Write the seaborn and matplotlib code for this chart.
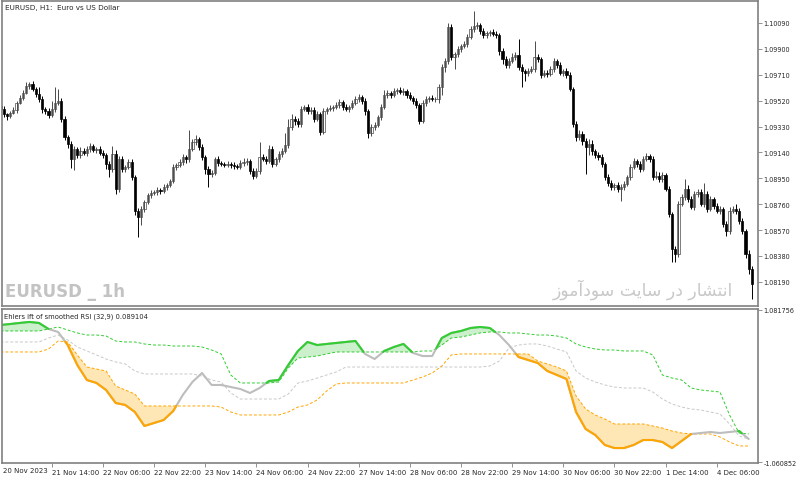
import numpy as np
import pandas as pd
import seaborn as sns
import matplotlib
matplotlib.use('Agg')
import matplotlib.pyplot as plt

# EURUSD H1 closes, one per bar
closes = [
    1.09459, 1.09422, 1.09407, 1.09429, 1.09451, 1.09503, 1.09539, 1.09576, 1.09628, 1.09642,
    1.09605, 1.09569, 1.09532, 1.09459, 1.09444, 1.09415, 1.09459, 1.09503, 1.09517, 1.09385,
    1.09253, 1.09202, 1.09092, 1.09165, 1.09121, 1.09150, 1.09136, 1.09165, 1.09187, 1.09158,
    1.09165, 1.09136, 1.09121, 1.09055, 1.09018, 1.09128, 1.08872, 1.09092, 1.09018, 1.09033,
    1.09070, 1.08960, 1.08710, 1.08666, 1.08725, 1.08776, 1.08828, 1.08842, 1.08850, 1.08864,
    1.08857, 1.08886, 1.08901, 1.08930, 1.09033, 1.09048, 1.09070, 1.09106, 1.09092, 1.09165,
    1.09216, 1.09238, 1.09180, 1.09106, 1.09018, 1.08982, 1.08989, 1.09092, 1.09062, 1.09055,
    1.09048, 1.09055, 1.09048, 1.09040, 1.09033, 1.09062, 1.09070, 1.09077, 1.09004, 1.08967, 1.09004,
    1.09106, 1.09092, 1.09077, 1.09165, 1.09055, 1.09092, 1.09128, 1.09150, 1.09194, 1.09327,
    1.09385, 1.09371, 1.09349, 1.09459, 1.09473, 1.09444, 1.09451, 1.09385, 1.09422, 1.09290,
    1.09444, 1.09459, 1.09466, 1.09473, 1.09488, 1.09510, 1.09473, 1.09459, 1.09473, 1.09503,
    1.09532, 1.09547, 1.09517, 1.09444, 1.09283, 1.09327, 1.09341, 1.09400, 1.09473, 1.09561,
    1.09576, 1.09561, 1.09591, 1.09598, 1.09583, 1.09591, 1.09561, 1.09539, 1.09517, 1.09488,
    1.09371, 1.09503, 1.09532, 1.09539, 1.09532, 1.09532, 1.09620, 1.09767, 1.09811, 1.10060,
    1.09840, 1.09862, 1.09899, 1.09921, 1.09936, 1.09987, 1.10046, 1.10068, 1.10075, 1.10031,
    1.10002, 1.10016, 1.10024, 1.10009, 1.10002, 1.09884, 1.09826, 1.09782, 1.09811, 1.09840, 1.09855,
    1.09767, 1.09738, 1.09723, 1.09738, 1.09752, 1.09840, 1.09826, 1.09708, 1.09723, 1.09716,
    1.09752, 1.09811, 1.09782, 1.09723, 1.09738, 1.09708, 1.09605, 1.09349, 1.09253, 1.09275,
    1.09224, 1.09180, 1.09202, 1.09150, 1.09121, 1.09106, 1.09055, 1.08960, 1.08916, 1.08886,
    1.08901, 1.08872, 1.08886, 1.08908, 1.08960, 1.09033, 1.09077, 1.09055, 1.09018, 1.09092,
    1.09114, 1.09092, 1.08960, 1.08967, 1.08945, 1.08974, 1.08872, 1.08688, 1.08432, 1.08395,
    1.08762, 1.08813, 1.08872, 1.08798, 1.08740, 1.08835, 1.08850, 1.08762, 1.08835, 1.08725,
    1.08798, 1.08747, 1.08710, 1.08725, 1.08615, 1.08564, 1.08710, 1.08725, 1.08710, 1.08637,
    1.08564, 1.08395, 1.08285, 1.08175,
]
first_open = 1.09480

# wick length beyond the body, in points (0.00001)
upper_wick_pts = [
    15, 20, 10, 15, 20, 15, 25, 20, 30, 15,
    20, 15, 50, 20, 15, 20, 60, 115, 90, 20,
    20, 15, 20, 25, 15, 30, 20, 25, 20, 15,
    15, 20, 20, 15, 20, 60, 30, 25, 20, 15,
    25, 20, 15, 20, 20, 15, 15, 20, 15, 20,
    15, 20, 15, 15, 20, 15, 20, 25, 15, 140,
    20, 30, 15, 20, 15, 20, 25, 15, 20, 15,
    15, 20, 15, 20, 15, 25, 30, 20, 15, 20, 25,
    110, 20, 25, 30, 20, 15, 25, 20, 90, 60,
    40, 20, 25, 20, 15, 20, 20, 25, 20, 15,
    20, 15, 20, 15, 25, 20, 15, 20, 15, 20,
    25, 20, 15, 20, 15, 20, 25, 15, 20, 40,
    20, 15, 25, 15, 20, 25, 15, 20, 15, 20,
    15, 20, 20, 15, 20, 15, 20, 25, 20, 30,
    20, 15, 25, 15, 20, 20, 25, 110, 20, 15,
    20, 15, 15, 20, 25, 15, 20, 25, 20, 30, 20,
    115, 20, 15, 25, 20, 115, 20, 15, 20, 25,
    20, 25, 15, 20, 15, 20, 25, 15, 20, 30,
    20, 25, 40, 30, 15, 20, 20, 15, 20, 25,
    15, 20, 20, 25, 15, 20, 25, 15, 20, 25,
    20, 15, 25, 40, 30, 20, 15, 20, 15, 20,
    20, 25, 70, 30, 20, 25, 20, 20, 80, 20,
    20, 15, 20, 25, 15, 20, 30, 20, 40, 20,
    20, 15, 30, 20,
]
lower_wick_pts = [
    20, 25, 30, 15, 10, 20, 10, 15, 10, 20,
    15, 25, 20, 30, 25, 20, 15, 20, 15, 20,
    25, 30, 70, 80, 20, 20, 15, 20, 25, 15,
    20, 15, 25, 40, 60, 20, 40, 20, 25, 20,
    15, 20, 30, 150, 60, 20, 15, 20, 15, 20,
    20, 15, 20, 15, 15, 20, 15, 20, 30, 20,
    15, 20, 25, 20, 40, 95, 20, 15, 20, 15,
    15, 15, 20, 20, 15, 15, 20, 20, 25, 20, 15,
    20, 15, 20, 15, 20, 15, 20, 20, 15, 20,
    20, 30, 25, 20, 15, 20, 25, 20, 15, 25,
    15, 20, 15, 20, 15, 20, 25, 15, 20, 15,
    15, 20, 20, 30, 40, 25, 20, 15, 20, 15,
    20, 25, 15, 20, 15, 20, 20, 15, 20, 25,
    20, 15, 20, 25, 15, 20, 30, 60, 40, 20,
    20, 90, 25, 20, 15, 20, 15, 20, 25, 20,
    25, 20, 20, 15, 20, 30, 40, 25, 20, 15, 20,
    20, 115, 60, 20, 15, 20, 25, 20, 15, 20,
    15, 20, 25, 15, 20, 20, 15, 25, 30, 20,
    30, 200, 60, 30, 20, 20, 25, 20, 25, 20,
    25, 20, 90, 20, 15, 20, 15, 20, 25, 15,
    15, 20, 20, 15, 25, 20, 15, 25, 95, 60,
    20, 15, 20, 25, 15, 20, 25, 15, 20, 25,
    15, 20, 15, 20, 25, 40, 20, 15, 20, 25,
    25, 30, 40, 110,
]

price_ticks = [1.10090, 1.09900, 1.09710, 1.09520, 1.09330, 1.09140,
               1.08950, 1.08760, 1.08570, 1.08380, 1.08190]

first_date = '20 Nov 2023'
date_ticks = [16, 32, 48, 64, 80, 96, 112, 128, 144, 160, 176, 192, 208, 224]
date_labels = ['21 Nov 14:00', '22 Nov 06:00', '22 Nov 22:00', '23 Nov 14:00',
               '24 Nov 06:00', '24 Nov 22:00', '27 Nov 14:00', '28 Nov 06:00',
               '28 Nov 22:00', '29 Nov 14:00', '30 Nov 06:00', '30 Nov 22:00',
               '1 Dec 14:00', '4 Dec 06:00']

# Ehlers ift of smoothed RSI, sampled every 3 bars
ind_step = 3
ind_main = [
    0.870, 0.884, 0.899, 0.913, 0.899, 0.814, 0.772, 0.588, 0.307, 0.095,
    0.053, -0.046, -0.229, -0.257, -0.356, -0.553, -0.511, -0.469, -0.342, -0.116,
    0.067, 0.194, 0.025, 0.025, -0.004, -0.032, -0.088, -0.018, 0.081, 0.095,
    0.307, 0.504, 0.631, 0.588, 0.603, 0.617, 0.631, 0.645, 0.462, 0.391,
    0.504, 0.560, 0.603, 0.476, 0.433, 0.433, 0.687, 0.758, 0.786, 0.828,
    0.842, 0.828, 0.729, 0.588, 0.419, 0.377, 0.335, 0.222, 0.166, 0.109,
    -0.356, -0.596, -0.680, -0.821, -0.864, -0.864, -0.821, -0.751, -0.751, -0.779,
    -0.864, -0.765, -0.666, -0.652, -0.638, -0.652, -0.638, -0.624, -0.737,
]
ind_upper = [
    0.786, 0.786, 0.786, 0.786, 0.786, 0.814, 0.842, 0.800, 0.758, 0.729,
    0.729, 0.715, 0.645, 0.631, 0.631, 0.603, 0.588, 0.588, 0.574, 0.574,
    0.574, 0.560, 0.518, 0.462, 0.166, 0.053, 0.053, 0.053, 0.053, 0.067,
    0.264, 0.405, 0.419, 0.433, 0.462, 0.490, 0.490, 0.490, 0.490, 0.490,
    0.490, 0.490, 0.490, 0.490, 0.504, 0.504, 0.588, 0.687, 0.701, 0.729,
    0.758, 0.772, 0.772, 0.758, 0.758, 0.744, 0.729, 0.729, 0.715, 0.687,
    0.603, 0.560, 0.532, 0.518, 0.518, 0.504, 0.504, 0.504, 0.448, 0.166,
    0.123, 0.095, -0.018, -0.046, -0.060, -0.074, -0.398, -0.652, -0.666,
]
ind_middle = [
    0.631, 0.631, 0.631, 0.631, 0.631, 0.687, 0.729, 0.659, 0.560, 0.504,
    0.448, 0.391, 0.349, 0.321, 0.222, 0.180, 0.180, 0.180, 0.180, 0.180,
    0.180, 0.151, 0.095, 0.067, -0.088, -0.173, -0.173, -0.173, -0.173, -0.173,
    -0.102, 0.053, 0.081, 0.123, 0.166, 0.208, 0.278, 0.278, 0.278, 0.278,
    0.278, 0.278, 0.278, 0.278, 0.278, 0.278, 0.278, 0.278, 0.278, 0.278,
    0.278, 0.292, 0.363, 0.546, 0.588, 0.603, 0.603, 0.574, 0.532, 0.490,
    0.222, 0.123, 0.067, 0.025, -0.004, -0.018, -0.018, -0.018, -0.074, -0.173,
    -0.243, -0.286, -0.314, -0.328, -0.356, -0.384, -0.525, -0.694, -0.737,
]
ind_lower = [
    0.490, 0.490, 0.490, 0.490, 0.490, 0.532, 0.645, 0.631, 0.448, 0.278,
    0.250, 0.222, 0.011, -0.046, -0.102, -0.271, -0.271, -0.271, -0.271, -0.271,
    -0.271, -0.271, -0.271, -0.286, -0.356, -0.398, -0.398, -0.398, -0.398, -0.398,
    -0.356, -0.286, -0.257, -0.187, -0.060, 0.039, 0.053, 0.053, 0.053, 0.053,
    0.053, 0.053, 0.053, 0.095, 0.137, 0.194, 0.292, 0.448, 0.462, 0.462,
    0.462, 0.462, 0.462, 0.462, 0.462, 0.462, 0.363, 0.321, 0.278, 0.222,
    -0.131, -0.314, -0.398, -0.455, -0.525, -0.525, -0.525, -0.525, -0.553, -0.582,
    -0.624, -0.652, -0.666, -0.666, -0.666, -0.708, -0.779, -0.835, -0.835,
]
ind_max = 1.081756
ind_min = -1.060852
ind_title = 'Ehlers ift of smoothed RSI (32,9) 0.089104'

# "انتشار در سایت سودآموز" written with Arabic presentation forms in display order
watermark_fa = '\ufeaf\ufeee\ufee3\ufe81\ufea9\ufeee\ufeb3 \ufe96\ufef3\ufe8e\ufeb3 \ufead\ufea9 \ufead\ufe8e\ufeb8\ufe98\ufee7\ufe8d'


def colored_part(xs, ys, ref, above):
    # keep the part of the line that is beyond the band, cut at the crossings
    out_x, out_y = [], []
    prev = None
    for k in range(len(xs)):
        d = ys[k] - ref[k] if above else ref[k] - ys[k]
        if prev is not None and (d > 0) != (prev > 0):
            t = prev / (prev - d)
            out_x.append(xs[k - 1] + t * (xs[k] - xs[k - 1]))
            out_y.append(ys[k - 1] + t * (ys[k] - ys[k - 1]))
            if d <= 0:
                out_x.append(np.nan)
                out_y.append(np.nan)
        if d > 0:
            out_x.append(xs[k])
            out_y.append(ys[k])
        prev = d
    return out_x, out_y


sns.set_style('white')
plt.rcParams['font.family'] = ['DejaVu Sans']

fig = plt.figure(figsize=(8, 4.81), dpi=100)
ax1 = fig.add_axes([2 / 800, 1 - 307 / 481, 756 / 800, 305 / 481])
ax2 = fig.add_axes([2 / 800, 1 - 464 / 481, 756 / 800, 154 / 481])

# Candles
df = pd.DataFrame({'close': closes})
df['open'] = df['close'].shift(1).fillna(first_open)
df['high'] = df[['open', 'close']].max(axis=1) + np.array(upper_wick_pts) * 1e-5
df['low'] = df[['open', 'close']].min(axis=1) - np.array(lower_wick_pts) * 1e-5
df['bar'] = np.arange(len(df))
df['body'] = (df['close'] - df['open']).abs().clip(lower=0.00003)
df['bottom'] = df[['open', 'close']].min(axis=1)
up = df[df['close'] >= df['open']]
dn = df[df['close'] < df['open']]

ax1.vlines(up['bar'], up['low'], up['high'], color='#4a4a4a', lw=0.7)
ax1.vlines(dn['bar'], dn['low'], dn['high'], color='black', lw=0.7)
ax1.bar(up['bar'], up['body'], bottom=up['bottom'], width=0.7,
        color='white', edgecolor='#4a4a4a', linewidth=0.5)
ax1.bar(dn['bar'], dn['body'], bottom=dn['bottom'], width=0.7,
        color='black', edgecolor='black', linewidth=0.5)

ax1.set_xlim(0.45, 236.9)
ax1.set_ylim(1.08013, 1.10251)
ax1.yaxis.tick_right()
ax1.set_yticks(price_ticks)
ax1.set_yticklabels([f'{p:.5f}' for p in price_ticks])
ax1.set_xticks([])
ax1.tick_params(axis='y', right=True, length=3, width=0.6, pad=1,
                labelsize=4.7, color='#808080')

ax1.text(0.004, 0.980, 'EURUSD, H1:  Euro vs US Dollar', transform=ax1.transAxes,
         fontsize=5.2, va='center', ha='left')
ax1.text(0.004, 0.05, 'EURUSD _ 1h', transform=ax1.transAxes, fontsize=12,
         fontweight='bold', color='#c3c3c3', va='center', ha='left')
ax1.text(0.967, 0.058, watermark_fa, transform=ax1.transAxes, fontsize=12.4,
         color='#c8c8c8', va='center', ha='right')

# Indicator
ind = pd.DataFrame({'bar': np.arange(0, len(ind_main) * ind_step, ind_step),
                    'main': ind_main, 'upper': ind_upper,
                    'middle': ind_middle, 'lower': ind_lower})
xs = ind['bar'].to_numpy(float)
m = ind['main'].to_numpy()
u = ind['upper'].to_numpy()
lo = ind['lower'].to_numpy()

ax2.fill_between(xs, m, u, where=m >= u, interpolate=True, color='#ccefcc', lw=0)
ax2.fill_between(xs, m, lo, where=m <= lo, interpolate=True, color='#ffe6b5', lw=0)

sns.lineplot(data=ind, x='bar', y='upper', ax=ax2, color='#32cd32', lw=0.7,
             linestyle=(0, (3, 2)))
sns.lineplot(data=ind, x='bar', y='middle', ax=ax2, color='#c8c8c8', lw=0.7,
             linestyle=(0, (3, 2)))
sns.lineplot(data=ind, x='bar', y='lower', ax=ax2, color='#ffa500', lw=0.7,
             linestyle=(0, (3, 2)))
sns.lineplot(data=ind, x='bar', y='main', ax=ax2, color='#bdbdbd', lw=1.5)

gx, gy = colored_part(xs, m, u, True)
ax2.plot(gx, gy, color='#32cd32', lw=1.5, solid_capstyle='round')
ox, oy = colored_part(xs, m, lo, False)
ax2.plot(ox, oy, color='#ffa500', lw=1.5, solid_capstyle='round')

ax2.set_xlim(0.45, 236.9)
ax2.set_ylim(ind_min - 0.014, ind_max + 0.014)
ax2.set_xlabel('')
ax2.set_ylabel('')
ax2.yaxis.tick_right()
ax2.set_yticks([ind_max, ind_min])
ax2.set_yticklabels([f'{ind_max:.6f}', f'{ind_min:.6f}'])
ax2.set_xticks(date_ticks)
ax2.set_xticklabels(date_labels, ha='left')
ax2.tick_params(axis='y', right=True, length=3, width=0.6, pad=1,
                labelsize=4.7, color='#808080')
ax2.tick_params(axis='x', bottom=True, length=3, width=0.6, pad=1.5,
                labelsize=5.0, color='#808080')
ax2.text(0.003, 0.955, ind_title, transform=ax2.transAxes, fontsize=4.9,
         va='center', ha='left')
fig.text(3 / 800, 1 - 471 / 481, first_date, fontsize=5.0, va='center', ha='left')

for ax in (ax1, ax2):
    for s in ax.spines.values():
        s.set_visible(True)
        s.set_color('#808080')
        s.set_linewidth(1.2)

fig.savefig('out.png', dpi=100, facecolor='white')
